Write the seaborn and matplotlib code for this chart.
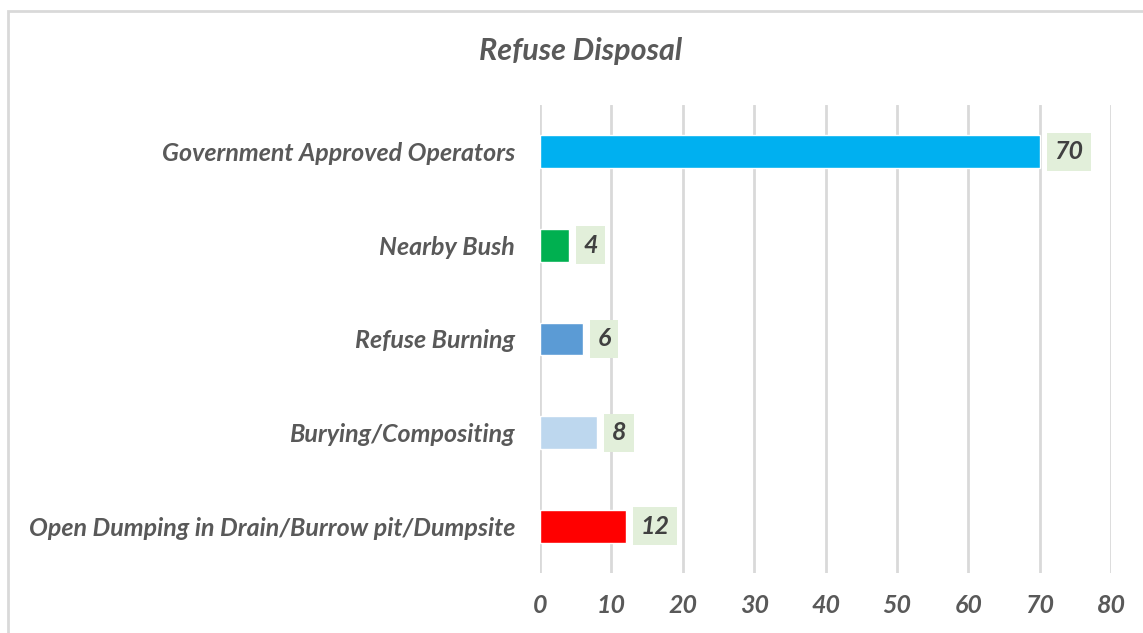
import matplotlib
matplotlib.use("Agg")
import matplotlib.pyplot as plt
from matplotlib.patches import Rectangle
import seaborn as sns
import pandas as pd

categories = [
    "Government Approved Operators",
    "Nearby Bush",
    "Refuse Burning",
    "Burying/Compositing",
    "Open Dumping in Drain/Burrow pit/Dumpsite",
]
values = [70, 4, 6, 8, 12]
colors = ["#00B0F0", "#00B050", "#5B9BD5", "#BDD7EE", "#FF0000"]
x_ticks = [0, 10, 20, 30, 40, 50, 60, 70, 80]

sns.set_theme(style="white")
plt.rcParams["font.family"] = ["Lato", "DejaVu Sans"]

text_color = "#595959"
grid_color = "#D9D9D9"
label_size = 18

df = pd.DataFrame({"category": categories, "value": values})

fig = plt.figure(figsize=(11.43, 6.33), dpi=100)
ax = fig.add_axes([540 / 1143, 1 - 573 / 633, (1111 - 540) / 1143, (573 - 105) / 633])

sns.barplot(
    data=df, x="value", y="category", hue="category",
    palette=colors, order=categories, hue_order=categories,
    orient="h", width=0.35, legend=False, ax=ax, saturation=1,
)

ax.set_xlim(0, 80)
ax.set_ylim(4.5, -0.5)
ax.set_xticks(x_ticks)
ax.set_xticklabels([str(t) for t in x_ticks])
ax.xaxis.grid(True, color=grid_color, linewidth=2)
ax.set_axisbelow(True)
for s in ax.spines.values():
    s.set_visible(False)
ax.set_xlabel("")
ax.set_ylabel("")
ax.tick_params(axis="both", length=0)
ax.tick_params(axis="y", pad=18)
ax.tick_params(axis="x", pad=15)
for lbl in ax.get_yticklabels() + ax.get_xticklabels():
    lbl.set_fontstyle("italic")
    lbl.set_fontweight("bold")
    lbl.set_color(text_color)
    lbl.set_fontsize(label_size)

# value labels in shaded boxes just past each bar end
for i, v in enumerate(values):
    ax.annotate(
        str(v), xy=(v, i), xytext=(10.5, 0), textcoords="offset points",
        ha="left", va="center", fontsize=label_size, fontstyle="italic",
        fontweight="bold", color="#404040",
        bbox=dict(boxstyle="square,pad=0.3", facecolor="#E2EFDA", edgecolor="none"),
    )

fig.text(581 / 1143, 1 - 51 / 633, "Refuse Disposal", ha="center", va="center",
         fontsize=22, fontstyle="italic", fontweight="bold", color=text_color)

# chart frame
fig.patches.append(Rectangle((8 / 1143, -0.1), 1.2, 1.1 - 11 / 633,
                             transform=fig.transFigure, fill=False,
                             edgecolor=grid_color, linewidth=2))

fig.savefig("out.png", dpi=100)
